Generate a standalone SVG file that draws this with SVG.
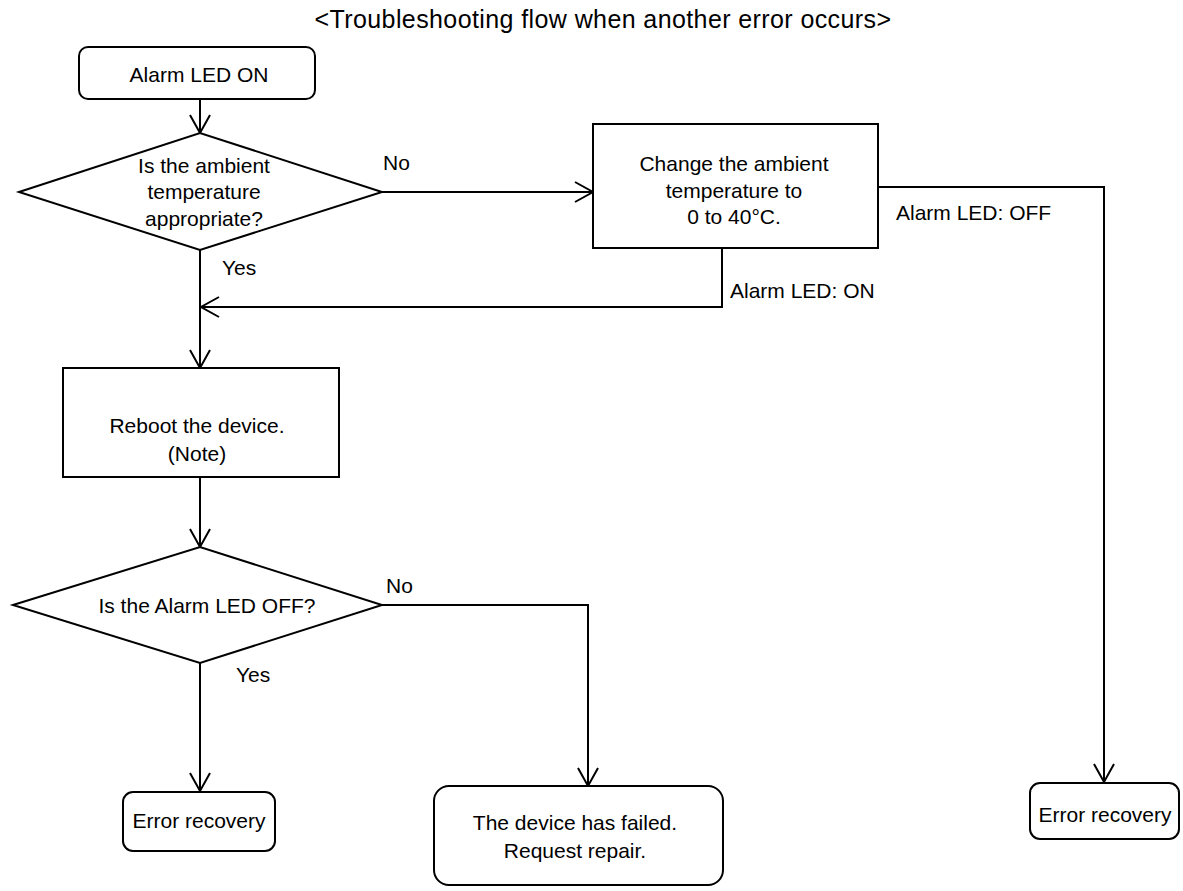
<svg xmlns="http://www.w3.org/2000/svg" width="1183" height="891" viewBox="0 0 1183 891">
<defs>
<style>
.t{font-family:"Liberation Sans",Arial,sans-serif;font-size:21px;fill:#000}
.c{text-anchor:middle}
.s{fill:#fff;stroke:#000;stroke-width:2}
.ln{fill:none;stroke:#000;stroke-width:2}
</style>
<marker id="ah" markerUnits="userSpaceOnUse" markerWidth="24" markerHeight="24" refX="20" refY="11" orient="auto">
<path d="M2,1 L20,11 L2,21" fill="none" stroke="#000" stroke-width="2"/>
</marker>
</defs>
<rect width="1183" height="891" fill="#fff"/>
<text class="t c" x="603" y="28" style="font-size:25px;letter-spacing:0.4px">&lt;Troubleshooting flow when another error occurs&gt;</text>
<g id="connectors">
<path class="ln" d="M200,99 L200,133" marker-end="url(#ah)"/>
<path class="ln" d="M382,192 L593,192" marker-end="url(#ah)"/>
<path class="ln" d="M878,187 L1104,187 L1104,782" marker-end="url(#ah)"/>
<path class="ln" d="M722,248 L722,307 L201,307" marker-end="url(#ah)"/>
<path class="ln" d="M200,250 L200,368" marker-end="url(#ah)"/>
<path class="ln" d="M200,477 L200,547" marker-end="url(#ah)"/>
<path class="ln" d="M382,605 L588,605 L588,786" marker-end="url(#ah)"/>
<path class="ln" d="M200,663 L200,791" marker-end="url(#ah)"/>
<text class="t" x="383" y="170">No</text>
<text class="t" x="222" y="275">Yes</text>
<text class="t" x="896" y="220">Alarm LED: OFF</text>
<text class="t" x="730" y="298">Alarm LED: ON</text>
<text class="t" x="386" y="593">No</text>
<text class="t" x="236" y="682">Yes</text>
</g>
<g id="start">
<rect class="s" x="79" y="47" width="236" height="52" rx="9"/>
<text class="t c" x="199" y="82">Alarm LED ON</text>
</g>
<g id="decision1">
<polygon class="s" points="19,192 200,133 382,192 200,250"/>
<text class="t c" x="204" y="173">Is the ambient</text>
<text class="t c" x="204" y="199">temperature</text>
<text class="t c" x="204" y="226">appropriate?</text>
</g>
<g id="change">
<rect class="s" x="593" y="124" width="285" height="124"/>
<text class="t c" x="734" y="171">Change the ambient</text>
<text class="t c" x="734" y="198">temperature to</text>
<text class="t c" x="734" y="224">0 to 40°C.</text>
</g>
<g id="reboot">
<rect class="s" x="63" y="368" width="276" height="109"/>
<text class="t c" x="197" y="433">Reboot the device.</text>
<text class="t c" x="197" y="461">(Note)</text>
</g>
<g id="decision2">
<polygon class="s" points="13,605 200,547 382,605 200,663"/>
<text class="t c" x="207" y="613">Is the Alarm LED OFF?</text>
</g>
<g id="recovery1">
<rect class="s" x="123" y="792" width="152" height="59" rx="10"/>
<text class="t c" x="199" y="828">Error recovery</text>
</g>
<g id="failed">
<rect class="s" x="434" y="786" width="289" height="99" rx="15"/>
<text class="t c" x="575" y="830">The device has failed.</text>
<text class="t c" x="575" y="858">Request repair.</text>
</g>
<g id="recovery2">
<rect class="s" x="1030" y="783" width="149" height="56" rx="10"/>
<text class="t c" x="1105" y="822">Error recovery</text>
</g>
</svg>
